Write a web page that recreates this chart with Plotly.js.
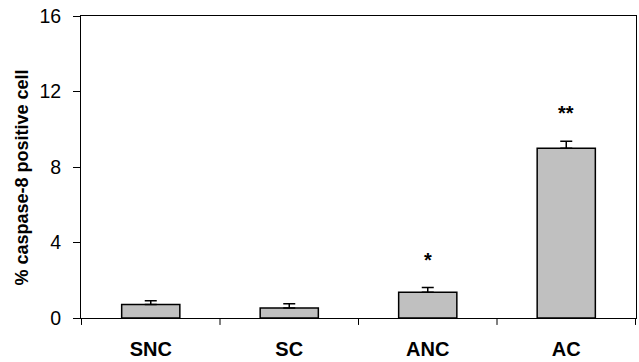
<!DOCTYPE html>
<html><head><meta charset="utf-8">
<script src="https://cdn.plot.ly/plotly-3.0.1.min.js"></script>
<style>html,body{margin:0;padding:0;background:#fff}#c{width:639px;height:362px}</style>
</head><body><div id="c"></div>
<script>
const categories = ["SNC", "SC", "ANC", "AC"];
const values = [0.71, 0.53, 1.36, 9.0];
const errors = [0.21, 0.23, 0.25, 0.37];
const significance = ["", "", "*", "**"];
const yTicks = [0, 4, 8, 12, 16];
const yTitle = "% caspase-8 positive cell";

const font = "Arial, 'Liberation Sans', sans-serif";
const trace = {
  type: "bar", x: categories, y: values,
  marker: {color: "#c0c0c0", line: {color: "#000", width: 1.5}},
  width: 0.42,
  error_y: {type: "data", array: errors, symmetric: false, arrayminus: errors.map(()=>0), color: "#000", thickness: 1.5, width: 6},
  hoverinfo: "none"
};
const annotations = categories.map((c, i) => ({
  x: c, y: values[i] + errors[i], text: significance[i], showarrow: false,
  yanchor: "middle", yshift: 28, font: {family: font, size: 20, color: "#000", weight: "bold"}
})).filter(a => a.text);
annotations.push({
  xref: "paper", yref: "paper", x: -0.1063, y: 0.465, xanchor: "center", yanchor: "middle",
  text: yTitle, textangle: -90, showarrow: false,
  font: {family: font, size: 18, color: "#000", weight: "bold"}
});

Plotly.newPlot("c", [trace], {
  width: 639, height: 362,
  margin: {l: 81, r: 3, t: 16, b: 44},
  paper_bgcolor: "#fff", plot_bgcolor: "#fff",
  showlegend: false,
  xaxis: {
    type: "category", showline: true, linecolor: "#000", linewidth: 1, mirror: true,
    ticks: "", showgrid: false, zeroline: false,
    tickfont: {family: font, size: 20, color: "#000", weight: "bold"},
    ticklabelstandoff: 13
  },
  yaxis: {
    range: [0, 16], tickvals: yTicks, ticktext: yTicks.map(String),
    showline: true, linecolor: "#000", linewidth: 1, mirror: true,
    ticks: "outside", ticklen: 7, tickcolor: "#000", tickwidth: 1,
    showgrid: false, zeroline: false,
    tickfont: {family: font, size: 19.5, color: "#000"},
    ticklabelstandoff: 8
  },
  shapes: [0, 1, 2, 3, 4].map(k => ({
    type: "line", xref: "x", yref: "paper", x0: k - 0.5, x1: k - 0.5, y0: 0, y1: -0.023,
    line: {color: "#000", width: 1}
  })),
  annotations: annotations
}, {staticPlot: true});
</script></body></html>
